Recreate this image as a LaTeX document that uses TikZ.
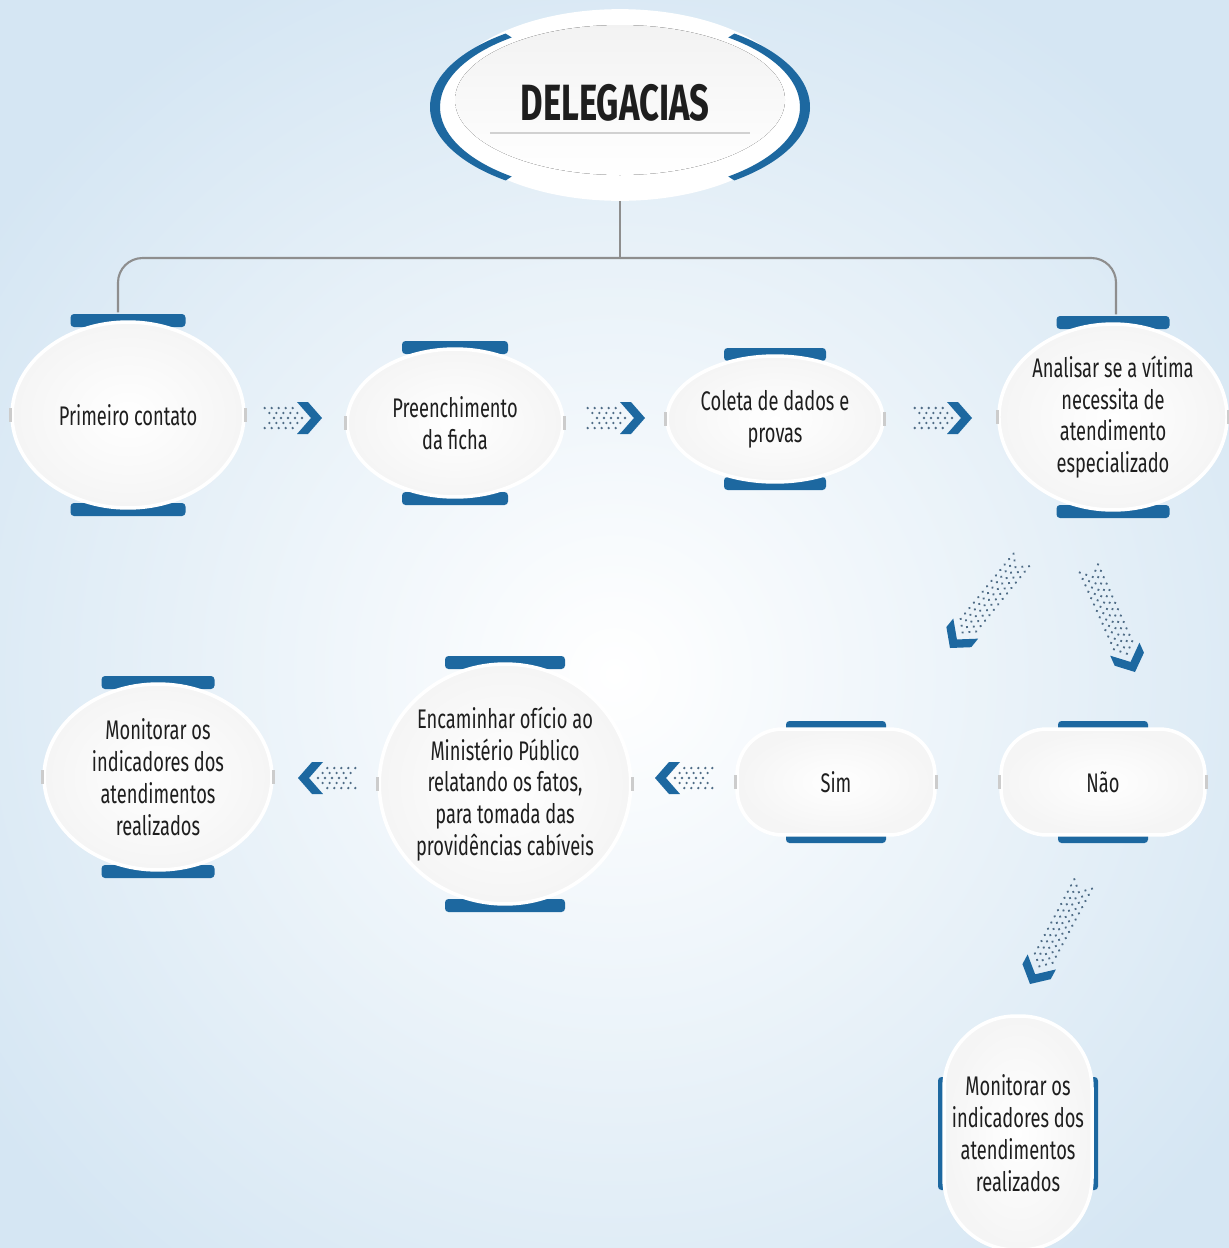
\documentclass[tikz,border=0pt]{standalone}
\usepackage{fontspec}
\setmainfont{Fira Sans}[FakeStretch=0.68]
\usetikzlibrary{shapes.geometric,calc}
\definecolor{bgblue}{HTML}{D5E6F3}
\definecolor{capblue}{HTML}{1D68A0}
\definecolor{dotc}{HTML}{4F6C86}
\definecolor{linegray}{HTML}{8E8E8E}
\definecolor{txt}{HTML}{1E1E1E}
\tikzset{
  bub/.style={ellipse, inner sep=0pt, align=center, font=\fontsize{15.3}{18.1}\selectfont,
    text=txt, draw=white, line width=2pt, shading=radial, inner color=white, outer color=black!4},
  pill/.style={rectangle, rounded corners=#1},
  conn/.style={linegray, line width=1.2pt},
  tick/.style={fill=black!20},
}
\newcommand{\hbub}[8]{%
  \fill[capblue, rounded corners=2pt] (#2-#6/2,#3-#5-8) rectangle (#2+#6/2,#3-#5+5);
  \fill[capblue, rounded corners=2pt] (#2-#6/2,#3+#5+8) rectangle (#2+#6/2,#3+#5-5);
  \node[bub,#7,minimum width=#4*0.04cm,minimum height=#5*0.04cm] (#1) at (#2,#3) {#8};
  \fill[tick] ($(#1.west)+(-1,-7)$) rectangle ($(#1.west)+(2,7)$);
  \fill[tick] ($(#1.east)+(-2,-7)$) rectangle ($(#1.east)+(1,7)$);
}
\newcommand{\darrow}[5]{%
  \begin{scope}[shift={(#2,#3)}, rotate=#4]
    \coordinate (#1) at (0,0);
    \fill[capblue] (0,0) -- (-14,-16) -- (-25,-16) -- (-11,0) -- (-25,16) -- (-14,16) -- cycle;
    \foreach \i in {1,...,#5}{
      \foreach \j in {-10,-5,0,5,10}{
        \pgfmathsetmacro{\off}{mod(\i+abs(\j)/5,2)*3.5}
        \fill[dotc] ({-13-7*\i-0.93*abs(\j)},\j) circle[radius=1.3];
      }}
  \end{scope}}
\begin{document}
\begin{tikzpicture}[x=0.02cm, y=-0.02cm]
\useasboundingbox (0,0) rectangle (1229,1248);
\shade[inner color=white, outer color=bgblue] (-150,-100) rectangle (1379,1448);

% title node
\node[ellipse, draw=white, line width=1pt, fill=white, minimum width=7.2cm, minimum height=3.8cm] (del) at (620,105) {};
\fill[top color=black!5, bottom color=white] (620,100) ellipse[x radius=165, y radius=75];
\fill[capblue] ($(620,107)+(127:190 and 92)$) arc[start angle=127, end angle=233, x radius=190, y radius=92]
  -- ($(620,107)+(233:180 and 87)$) arc[start angle=233, end angle=127, x radius=180, y radius=87] -- cycle;
\fill[capblue] ($(620,107)+(53:190 and 92)$) arc[start angle=53, end angle=-53, x radius=190, y radius=92]
  -- ($(620,107)+(-53:180 and 87)$) arc[start angle=-53, end angle=53, x radius=180, y radius=87] -- cycle;
\node[font=\bfseries\fontsize{29}{34}\selectfont, text=txt] (deltext) at (615,103) {DELEGACIAS};
\draw[black!18, line width=1pt] (490,133) -- (750,133);

% first row
\hbub{n1}{128}{415}{116}{93}{115}{}{Primeiro contato}
\hbub{n2}{455}{423}{108}{74}{106}{}{Preenchimento\\da ficha}
\hbub{n3}{775}{419}{108}{63}{102}{}{Coleta de dados e\\provas}
\hbub{n4}{1113}{417}{113}{93}{113}{}{Analisar se a vítima\\necessita de\\atendimento\\especializado}

% second row
\hbub{n5}{836}{782}{99}{53}{100}{pill=26pt}{Sim}
\hbub{n6}{1103}{782}{102}{53}{90}{pill=26pt}{Não}
\hbub{n7}{505}{784}{125}{120}{120}{}{Encaminhar ofício ao\\Ministério Público\\relatando os fatos,\\para tomada das\\providências cabíveis}
\hbub{n8}{158}{777}{114}{93}{113}{}{Monitorar os\\indicadores dos\\atendimentos\\realizados}

% bottom node (vertical caps)
\fill[capblue, rounded corners=2pt] (938,1077) rectangle (952,1190);
\fill[capblue, rounded corners=2pt] (1084,1077) rectangle (1098,1190);
\node[bub, pill=41pt, minimum width=148*0.02cm, minimum height=234*0.02cm] (n9) at (1018,1133)
  {Monitorar os\\indicadores dos\\atendimentos\\realizados};

% tree connector
\coordinate (hub) at (620,258);
\draw[conn] (del.south) -- (hub);
\draw[conn, rounded corners=14pt] (hub) -| ($(n1.north)+(-10,-8)$);
\draw[conn, rounded corners=14pt] (hub) -| ($(n4.north)+(3,-8)$);

% arrows
\darrow{a1}{322}{418}{0}{5}
\darrow{a2}{645}{418}{0}{5}
\darrow{a3}{972}{418}{0}{5}
\darrow{a4}{950}{648}{-129}{13}
\darrow{a5}{1135}{672}{-66}{13}
\darrow{a6}{655}{778}{180}{5}
\darrow{a7}{298}{778}{180}{5}
\darrow{a8}{1030}{984}{-118}{13}
\end{tikzpicture}
\end{document}
